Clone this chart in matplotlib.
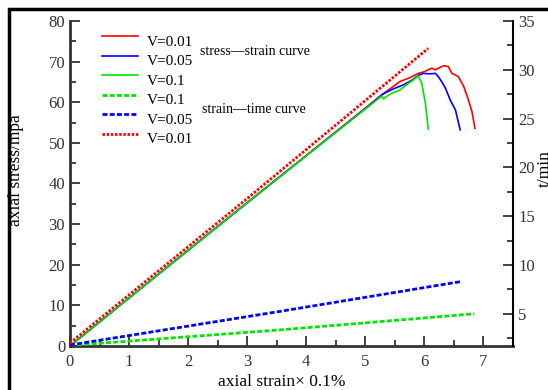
import numpy as np
import matplotlib
matplotlib.use('Agg')
import matplotlib.pyplot as plt
from matplotlib.patches import Rectangle
from matplotlib.ticker import MultipleLocator

plt.rcParams['font.family'] = ['Liberation Serif', 'DejaVu Serif']

# stress-strain curves (left axis)
strain_r = [0, 1, 2, 3, 4, 5, 5.3, 5.45, 5.59, 5.75, 5.90, 6.0, 6.13, 6.19, 6.26,
            6.33, 6.41, 6.47, 6.52, 6.58, 6.67, 6.75, 6.81, 6.86]
stress_r = [0, 11.8, 23.6, 35.3, 46.9, 58.5, 62.0, 63.6, 65.1, 66.0, 67.1, 67.5, 68.4,
            68.0, 68.5, 69.0, 68.8, 67.1, 66.8, 66.3, 63.9, 60.6, 57.7, 53.6]
strain_b = [0, 1, 2, 3, 4, 5, 5.28, 5.35, 5.48, 5.65, 5.80, 5.90, 5.99, 6.10, 6.19,
            6.24, 6.30, 6.36, 6.44, 6.53, 6.61]
stress_b = [0, 11.8, 23.5, 35.2, 46.8, 58.4, 61.8, 62.4, 63.3, 64.3, 65.5, 66.6, 67.1,
            67.0, 67.1, 66.3, 65.0, 63.5, 60.6, 58.1, 53.2]
strain_g = [0, 1, 2, 3, 4, 5, 5.28, 5.31, 5.38, 5.48, 5.58, 5.70, 5.80, 5.90, 5.96,
            6.02, 6.07]
stress_g = [0, 11.8, 23.5, 35.2, 46.8, 58.3, 61.5, 60.8, 61.6, 62.4, 62.9, 64.3, 65.3,
            66.5, 64.7, 59.8, 53.4]

# strain-time curves (right axis)
tstrain_r = [0, 3, 6.07]
time_r = [2.0, 16.8, 32.2]
tstrain_b = [0, 3.56, 6.62]
time_b = [1.8, 5.25, 8.3]
tstrain_g = [0, 3.56, 6.85]
time_g = [1.75, 3.35, 5.0]

labels = ['V=0.01', 'V=0.05', 'V=0.1', 'V=0.1', 'V=0.05', 'V=0.01']

RED = '#ff0000'
BLUE = '#0000ff'
GREEN = '#00e600'
TCOL = '#333333'

fig = plt.figure(figsize=(5.48, 3.9), dpi=100)
ax = fig.add_axes([70/548, 1-346/390, (513.3-70)/548, (346-21)/390])
ax2 = ax.twinx()

l1, = ax.plot(strain_r, stress_r, color=RED, lw=1.2)
l2, = ax.plot(strain_b, stress_b, color=BLUE, lw=1.2)
l3, = ax.plot(strain_g, stress_g, color=GREEN, lw=1.2)
l4, = ax2.plot(tstrain_g, time_g, color=GREEN, lw=2, ls=(0, (1.8, 0.8)))
l5, = ax2.plot(tstrain_b, time_b, color=BLUE, lw=2, ls=(0, (1.8, 0.8)))
l6, = ax2.plot(tstrain_r, time_r, color=RED, lw=2, ls=(0, (0.9, 0.6)))

ax.set_xlim(0, 7.51)
ax.set_ylim(0, 80)
ax2.set_ylim(1.7, 35)

ax.xaxis.set_major_locator(MultipleLocator(1))
ax.xaxis.set_minor_locator(MultipleLocator(0.5))
ax.yaxis.set_major_locator(MultipleLocator(10))
ax.yaxis.set_minor_locator(MultipleLocator(5))
ax2.yaxis.set_major_locator(MultipleLocator(5))
ax2.yaxis.set_minor_locator(MultipleLocator(2.5))

for a in (ax, ax2):
    a.spines['top'].set_visible(False)
    a.tick_params(which='both', direction='in', labelsize=12, labelcolor=TCOL,
                  color=TCOL, width=1.3)
    a.tick_params(which='major', length=7)
    a.tick_params(which='minor', length=4)
ax.spines['right'].set_visible(False)
ax2.spines['left'].set_visible(False)
ax2.spines['bottom'].set_visible(False)
ax.spines['left'].set_linewidth(2)
ax.spines['left'].set_color(TCOL)
ax.spines['bottom'].set_linewidth(2)
ax.spines['bottom'].set_color(TCOL)
ax2.spines['right'].set_linewidth(1.5)
ax.tick_params(axis='x', pad=6)

ax.set_xlabel('axial strain\u00d7 0.1%', fontsize=12.5)
ax.xaxis.set_label_coords(0.478, -0.087)
ax.set_ylabel('axial stress/mpa', fontsize=12.5)
ax.yaxis.set_label_coords(-0.104, 0.54)
ax2.set_ylabel('t/min', fontsize=12.5)
ax2.yaxis.set_label_coords(1.053, 0.545)

leg = ax.legend([l1, l2, l3, l4, l5, l6], labels,
                loc='upper left', bbox_to_anchor=(0.072, 0.957), frameon=False,
                borderaxespad=0, borderpad=0, fontsize=11, handlelength=2.36,
                handletextpad=0.6, labelspacing=0.38)
# the handle lines sit a bit above the label text in the original
for h in leg.legend_handles:
    h.set_ydata(np.asarray(h.get_ydata()) + 3)

ax.text(0.293, 0.905, 'stress\u2014strain curve', transform=ax.transAxes,
        fontsize=10, va='center')
ax.text(0.298, 0.729, 'strain\u2014time curve', transform=ax.transAxes,
        fontsize=10, va='center')

# frame around the figure (cut at right and bottom)
fig.add_artist(Rectangle((9/548, -0.1), 1.2, 1.1 - 8.7/390, transform=fig.transFigure,
                         fill=False, lw=2.5, ec='black'))

fig.savefig('out.png', dpi=100)
